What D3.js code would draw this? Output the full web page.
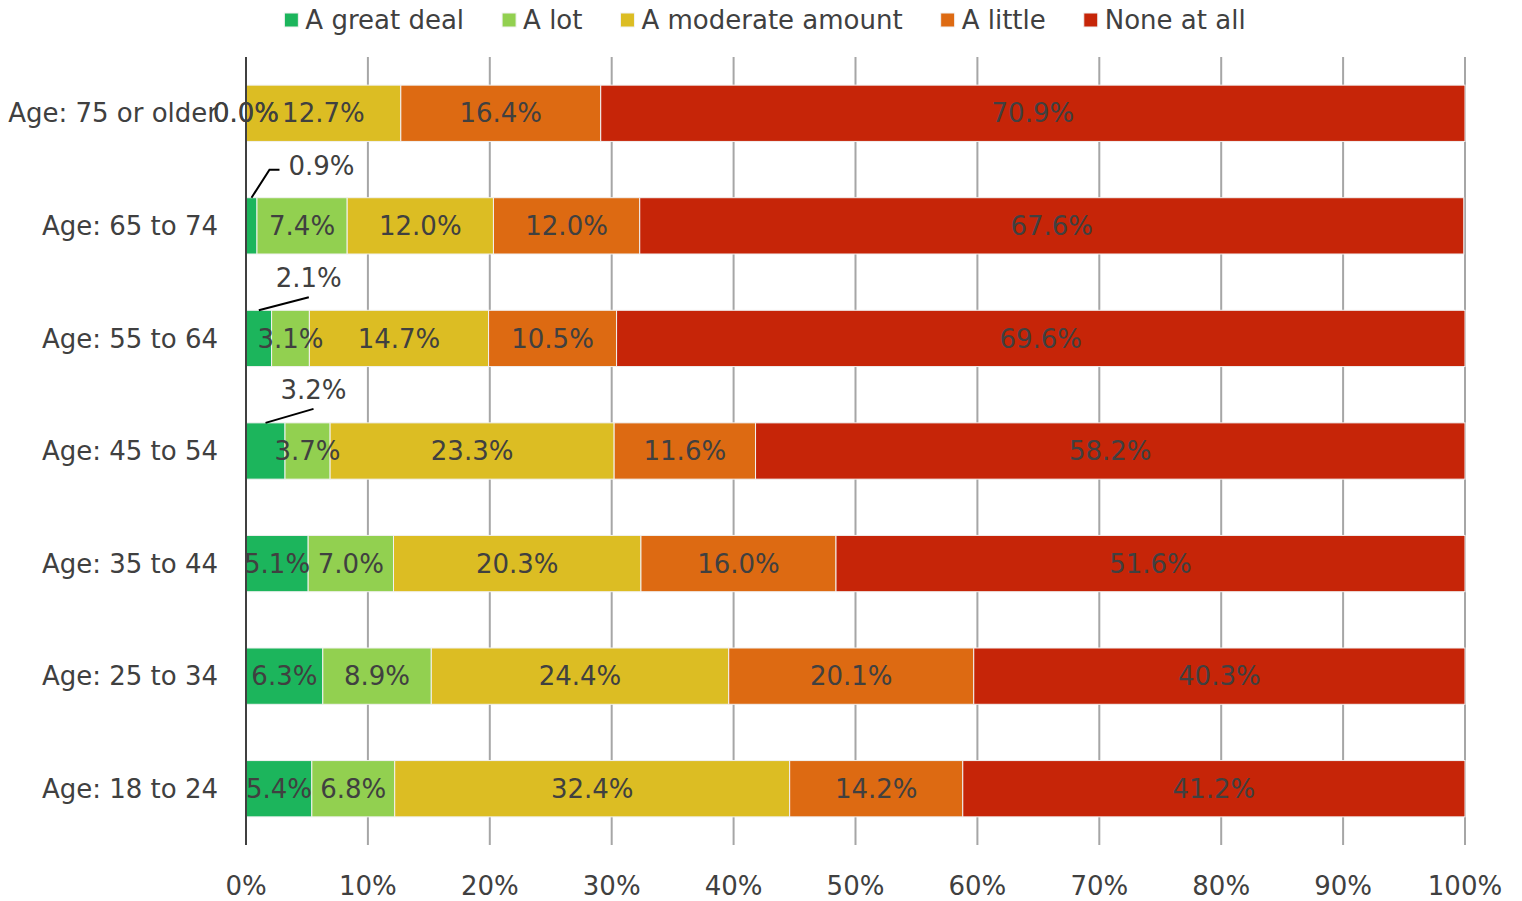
<!DOCTYPE html>
<html>
<head>
<meta charset="utf-8">
<script src="https://cdn.jsdelivr.net/npm/d3@7"></script>
<style>
  body { margin: 0; background: #fff; }
  text { font-family: "DejaVu Sans", sans-serif; fill: #404040; }
</style>
</head>
<body>
<script>
// data
let ages = ["Age: 75 or older", "Age: 65 to 74", "Age: 55 to 64", "Age: 45 to 54",
            "Age: 35 to 44", "Age: 25 to 34", "Age: 18 to 24"];
let levels = ["A great deal", "A lot", "A moderate amount", "A little", "None at all"];
let greatDeal = [0.0, 0.9, 2.1, 3.2, 5.1, 6.3, 5.4];
let aLot = [0.0, 7.4, 3.1, 3.7, 7.0, 8.9, 6.8];
let moderate = [12.7, 12.0, 14.7, 23.3, 20.3, 24.4, 32.4];
let aLittle = [16.4, 12.0, 10.5, 11.6, 16.0, 20.1, 14.2];
let noneAtAll = [70.9, 67.6, 69.6, 58.2, 51.6, 40.3, 41.2];
let ticks = [0, 10, 20, 30, 40, 50, 60, 70, 80, 90, 100];
let colors = ["#1cb55c", "#92d050", "#dcbd23", "#dd6a12", "#c62508"];
// small segments whose labels are pulled out above the bar
let callouts = [
  {age: "Age: 65 to 74", dx: 20, dy: -28, line: "elbow"},
  {age: "Age: 55 to 64", dx: 50, dy: -13, line: "straight"},
  {age: "Age: 45 to 54", dx: 48, dy: -14, line: "straight"}
];

let width = 1522, height = 901;
let margin = {top: 57, right: 57, bottom: 56, left: 246};
let fontSize = 26;

let svg = d3.select("body").append("svg")
    .attr("width", width)
    .attr("height", height);

let rows = ages.map((a, i) => ({
  age: a,
  "A great deal": greatDeal[i],
  "A lot": aLot[i],
  "A moderate amount": moderate[i],
  "A little": aLittle[i],
  "None at all": noneAtAll[i]
}));
let stacked = d3.stack().keys(levels)(rows);

let x = d3.scaleLinear().domain([0, 100]).range([margin.left, width - margin.right]);
let y = d3.scaleBand().domain(ages).range([margin.top, height - margin.bottom]).paddingInner(0.5).paddingOuter(0.25);
let color = d3.scaleOrdinal().domain(levels).range(colors);

// gridlines
svg.append("g").selectAll("line")
  .data(ticks.slice(1))
  .enter().append("line")
    .attr("x1", d => x(d)).attr("x2", d => x(d))
    .attr("y1", margin.top).attr("y2", height - margin.bottom)
    .attr("stroke", "#a6a6a6").attr("stroke-width", 2);

// bars
let series = svg.append("g").selectAll("g")
  .data(stacked)
  .enter().append("g")
    .attr("fill", d => color(d.key));

series.selectAll("rect")
  .data(d => d)
  .enter().append("rect")
    .attr("x", d => x(d[0]))
    .attr("width", d => x(d[1]) - x(d[0]))
    .attr("y", d => y(d.data.age))
    .attr("height", y.bandwidth())
    .attr("stroke", "#f2f2f2").attr("stroke-width", 1);

// value axis line
svg.append("line")
  .attr("x1", x(0)).attr("x2", x(0))
  .attr("y1", margin.top).attr("y2", height - margin.bottom)
  .attr("stroke", "#404040").attr("stroke-width", 2);

// x tick labels
svg.append("g").selectAll("text")
  .data(ticks)
  .enter().append("text")
    .attr("x", d => x(d))
    .attr("y", height - margin.bottom + 50)
    .attr("text-anchor", "middle")
    .style("font-size", fontSize + "px")
    .text(d => d + "%");

// category labels
svg.append("g").selectAll("text")
  .data(ages)
  .enter().append("text")
    .attr("x", margin.left - 28)
    .attr("y", d => y(d) + y.bandwidth() / 2)
    .attr("dy", "0.35em")
    .attr("text-anchor", "end")
    .style("font-size", fontSize + "px")
    .text(d => d);

// data labels
let labels = svg.append("g");
stacked.forEach(function(s) {
  s.forEach(function(d) {
    let cx = x((d[0] + d[1]) / 2);
    let cy = y(d.data.age) + y.bandwidth() / 2;
    let val = d[1] - d[0];
    let co = s.key === "A great deal" ? callouts.find(c => c.age === d.data.age) : null;
    if (co) {
      let top = y(d.data.age);
      let lx = cx + co.dx, ly = top + co.dy - 19;
      if (co.line === "elbow") {
        labels.append("path")
          .attr("d", `M${cx},${top} L${cx + co.dx - 2},${top + co.dy} L${cx + co.dx + 8},${top + co.dy}`)
          .attr("fill", "none").attr("stroke", "#000").attr("stroke-width", 2);
        lx = cx + co.dx + 50; ly = top + co.dy - 4;
      } else {
        labels.append("line")
          .attr("x1", cx).attr("y1", top)
          .attr("x2", cx + co.dx).attr("y2", top + co.dy)
          .attr("stroke", "#000").attr("stroke-width", 2);
      }
      labels.append("text")
        .attr("x", lx).attr("y", ly)
        .attr("dy", "0.35em")
        .attr("text-anchor", "middle")
        .style("font-size", fontSize + "px")
        .text(d3.format(".1f")(val) + "%");
      return;
    }
    labels.append("text")
      .attr("x", cx).attr("y", cy)
      .attr("dy", "0.35em")
      .attr("text-anchor", "middle")
      .style("font-size", fontSize + "px")
      .text(d3.format(".1f")(Math.round(val * 10) / 10) + "%");
  });
});

// legend
let legend = svg.append("g");
let lx = 0;
levels.forEach(function(k) {
  let g = legend.append("g");
  g.append("rect").attr("width", 14).attr("height", 14).attr("y", -7).attr("fill", color(k))
    .attr("stroke", "#f2f2f2").attr("stroke-width", 1);
  let t = g.append("text").attr("x", 21).attr("dy", "0.35em")
    .style("font-size", fontSize + "px").text(k);
  let w = 21 + t.node().getComputedTextLength();
  g.attr("transform", `translate(${lx},0)`);
  lx += w + 38;
});
let legendWidth = lx - 38;
legend.attr("transform", `translate(${765 - legendWidth / 2},20)`);
</script>
</body>
</html>
